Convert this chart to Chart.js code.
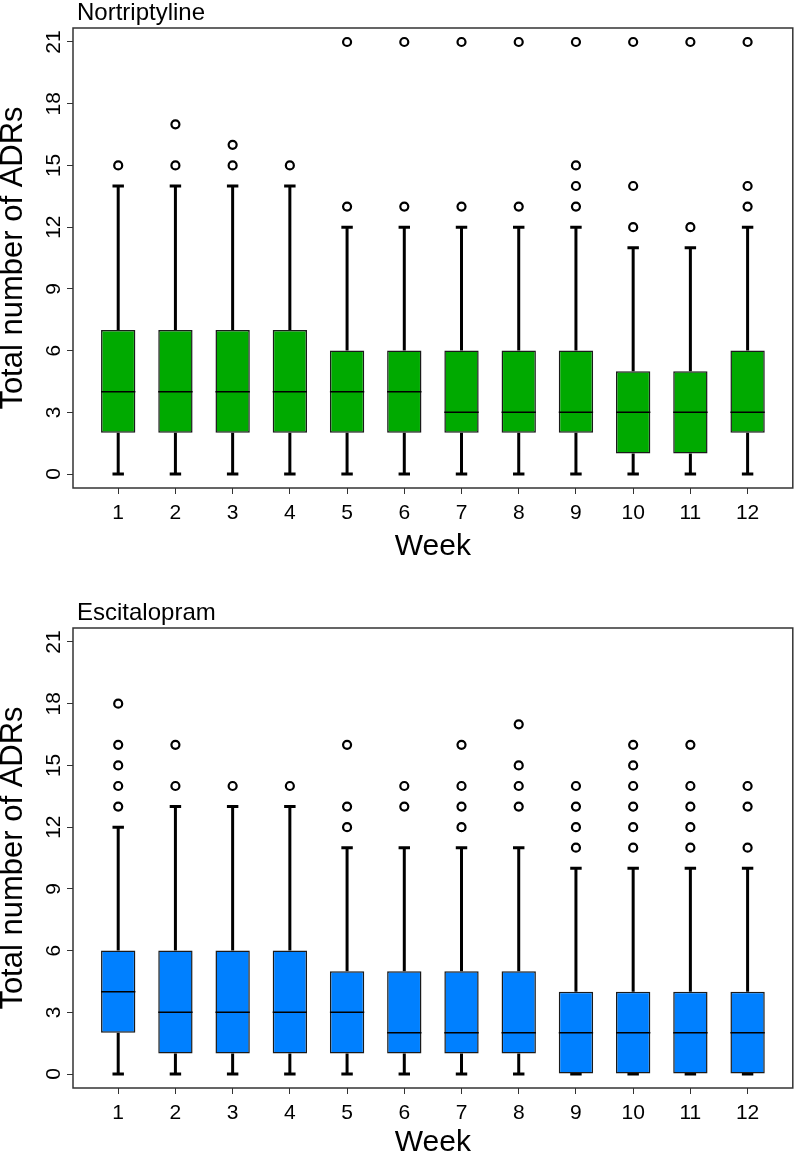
<!DOCTYPE html>
<html>
<head>
<meta charset="utf-8">
<title>ADRs by week</title>
<script src="https://cdn.jsdelivr.net/npm/chart.js@4.4.1/dist/chart.umd.min.js"></script>
<style>
  html, body { margin: 0; padding: 0; background: #fff; }
  .panel { position: relative; width: 799px; height: 578px; }
</style>
</head>
<body>
<div class="panel"><canvas id="nort"></canvas></div>
<div class="panel"><canvas id="escit"></canvas></div>
<script>
const weeks = [1, 2, 3, 4, 5, 6, 7, 8, 9, 10, 11, 12];
const yTicks = [0, 3, 6, 9, 12, 15, 18, 21];

// Nortriptyline
const nortLo  = [0, 0, 0, 0, 0, 0, 0, 0, 0, 0, 0, 0];
const nortQ1  = [2, 2, 2, 2, 2, 2, 2, 2, 2, 1, 1, 2];
const nortMed = [4, 4, 4, 4, 4, 4, 3, 3, 3, 3, 3, 3];
const nortQ3  = [7, 7, 7, 7, 6, 6, 6, 6, 6, 5, 5, 6];
const nortHi  = [14, 14, 14, 14, 12, 12, 12, 12, 12, 11, 11, 12];
const nortOut = [[15], [15, 17], [15, 16], [15], [13, 21], [13, 21], [13, 21], [13, 21],
                 [13, 14, 15, 21], [12, 14, 21], [12, 21], [13, 14, 21]];

// Escitalopram
const escLo  = [0, 0, 0, 0, 0, 0, 0, 0, 0, 0, 0, 0];
const escQ1  = [2, 1, 1, 1, 1, 1, 1, 1, 0, 0, 0, 0];
const escMed = [4, 3, 3, 3, 3, 2, 2, 2, 2, 2, 2, 2];
const escQ3  = [6, 6, 6, 6, 5, 5, 5, 5, 4, 4, 4, 4];
const escHi  = [12, 13, 13, 13, 11, 11, 11, 11, 10, 10, 10, 10];
const escOut = [[13, 14, 15, 16, 18], [14, 16], [14], [14], [12, 13, 16], [13, 14],
                [12, 13, 14, 16], [13, 14, 15, 17], [11, 12, 13, 14],
                [11, 12, 13, 14, 15, 16], [11, 12, 13, 14, 16], [11, 13, 14]];

const FONT = "'Liberation Sans', Arial, sans-serif";

// box round the plot region + panel name above it
const framePlugin = {
  id: 'frame',
  afterDraw(chart, args, opts) {
    const {ctx, chartArea: a} = chart;
    ctx.save();
    ctx.strokeStyle = '#333';
    ctx.lineWidth = 1.5;
    ctx.strokeRect(a.left, a.top, a.right - a.left, a.bottom - a.top);
    ctx.fillStyle = '#000';
    ctx.font = '24px ' + FONT;
    ctx.textBaseline = 'alphabetic';
    ctx.textAlign = 'left';
    ctx.fillText(opts.text, a.left + 4, a.top - 8.5);
    ctx.restore();
  }
};

function boxChart(id, name, color, lo, q1, med, q3, hi, out, padTop, xHeight, xTitlePad) {
  const whiskers = [];
  const medians = [];
  const outliers = [];
  weeks.forEach((w, i) => {
    whiskers.push({x: w, y: q3[i]}, {x: w, y: hi[i]}, {x: w, y: null});
    whiskers.push({x: w - 0.1, y: hi[i]}, {x: w + 0.1, y: hi[i]}, {x: w, y: null});
    whiskers.push({x: w, y: q1[i]}, {x: w, y: lo[i]}, {x: w, y: null});
    whiskers.push({x: w - 0.1, y: lo[i]}, {x: w + 0.1, y: lo[i]}, {x: w, y: null});
    medians.push({x: w - 0.3, y: med[i]}, {x: w + 0.3, y: med[i]}, {x: w, y: null});
    out[i].forEach(v => outliers.push({x: w, y: v}));
  });

  return new Chart(document.getElementById(id), {
    type: 'bar',
    data: {
      datasets: [
        {
          type: 'line',
          data: whiskers,
          borderColor: '#000',
          borderWidth: 3,
          pointRadius: 0,
          fill: false,
          spanGaps: false,
          order: 3
        },
        {
          type: 'bar',
          data: weeks.map((w, i) => ({x: w, y: [q1[i], q3[i]]})),
          backgroundColor: color,
          borderColor: '#1a1a1a',
          borderWidth: 1.5,
          borderSkipped: false,
          barPercentage: 0.6,
          categoryPercentage: 1,
          order: 2
        },
        {
          type: 'line',
          data: medians,
          borderColor: '#000',
          borderWidth: 1.5,
          pointRadius: 0,
          fill: false,
          spanGaps: false,
          order: 1
        },
        {
          type: 'scatter',
          data: outliers,
          pointStyle: 'circle',
          pointRadius: 4,
          borderWidth: 2.2,
          borderColor: '#000',
          backgroundColor: 'rgba(0,0,0,0)',
          order: 0
        }
      ]
    },
    options: {
      responsive: true,
      maintainAspectRatio: false,
      animation: false,
      layout: { padding: { top: padTop, right: 2, left: 0, bottom: 0 } },
      plugins: {
        legend: { display: false },
        tooltip: { enabled: false },
        frame: { text: name }
      },
      scales: {
        x: {
          type: 'linear',
          min: 0.21,
          max: 12.79,
          offset: false,
          afterBuildTicks: s => { s.ticks = weeks.map(v => ({value: v})); },
          afterFit: s => { s.height = xHeight; },
          grid: { drawOnChartArea: false, drawTicks: true, tickLength: 6, color: '#333', offset: false },
          border: { display: false },
          ticks: { color: '#000', padding: 7, maxRotation: 0, font: { family: FONT, size: 21 } },
          title: {
            display: true,
            text: 'Week',
            color: '#000',
            font: { family: FONT, size: 30, lineHeight: 1 },
            padding: { top: 0, bottom: xTitlePad }
          }
        },
        y: {
          type: 'linear',
          min: -0.68,
          max: 21.68,
          afterBuildTicks: s => { s.ticks = yTicks.map(v => ({value: v})); },
          afterFit: s => { s.width = 73; },
          grid: { drawOnChartArea: false, drawTicks: true, tickLength: 6, color: '#333' },
          border: { display: false },
          ticks: {
            color: '#000',
            padding: 1,
            minRotation: 90,
            maxRotation: 90,
            crossAlign: 'center',
            font: { family: FONT, size: 21 }
          },
          title: {
            display: true,
            text: 'Total number of ADRs',
            color: '#000',
            font: { family: FONT, size: 31, lineHeight: 0.86 },
            padding: { top: 0, bottom: 0 }
          }
        }
      }
    },
    plugins: [framePlugin]
  });
}

boxChart('nort', 'Nortriptyline', '#00aa00', nortLo, nortQ1, nortMed, nortQ3, nortHi, nortOut, 28, 90, 16);
boxChart('escit', 'Escitalopram', '#0080ff', escLo, escQ1, escMed, escQ3, escHi, escOut, 50, 68, -2);
</script>
</body>
</html>
